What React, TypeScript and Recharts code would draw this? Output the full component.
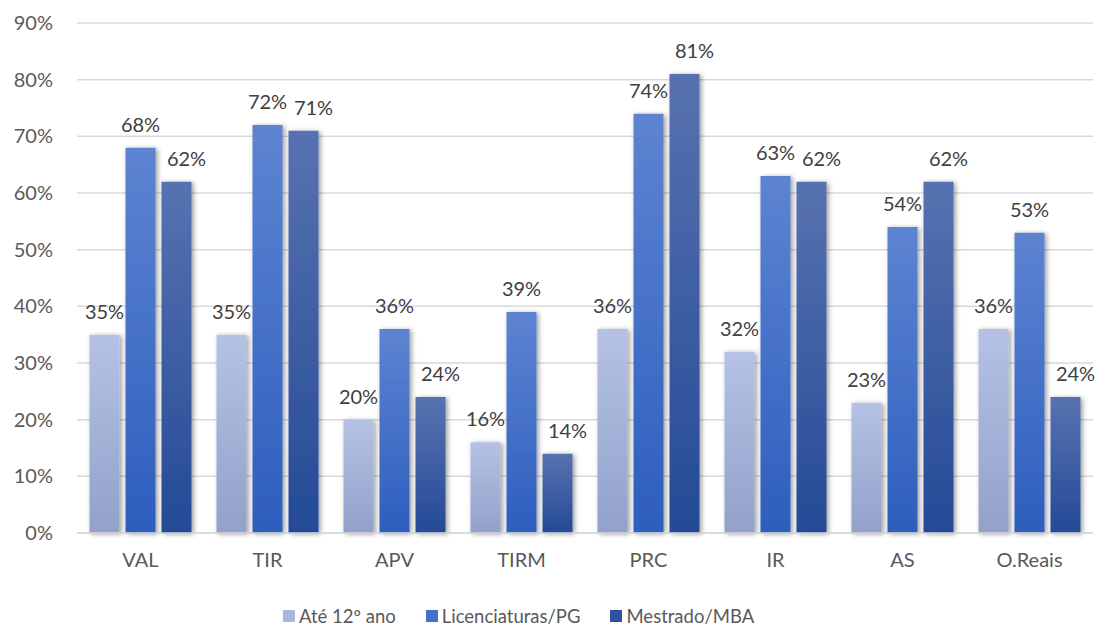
import { Bar, BarChart, CartesianGrid, LabelList, Legend, XAxis, YAxis } from "recharts";

const categories = ["VAL", "TIR", "APV", "TIRM", "PRC", "IR", "AS", "O.Reais"];
const ate12 = [35, 35, 20, 16, 36, 32, 23, 36];
const licenciaturas = [68, 72, 36, 39, 74, 63, 54, 53];
const mestrado = [62, 71, 24, 14, 81, 62, 62, 24];
const yTicks = [0, 10, 20, 30, 40, 50, 60, 70, 80, 90];

const data = categories.map((name, i) => ({
  name,
  ate12: ate12[i],
  licenciaturas: licenciaturas[i],
  mestrado: mestrado[i]
}));

const FONT = "Lato, 'Open Sans', sans-serif";

const series = [
  { key: "ate12", label: "Até 12º ano", grad: "gAte", top: "#b5c2e5", bottom: "#93a1ca", swatch: "#a9b7df", dx: 0 },
  { key: "licenciaturas", label: "Licenciaturas/PG", grad: "gLic", top: "#5d84d1", bottom: "#2d5ebe", swatch: "#4472c4", dx: 0 },
  { key: "mestrado", label: "Mestrado/MBA", grad: "gMes", top: "#5872b0", bottom: "#244a96", swatch: "#2f539e", dx: 10 }
];

function LegendRow() {
  return (
    <div style={{ display: "flex", alignItems: "center", height: 30, fontFamily: FONT, fontSize: 18.5, color: "#595959" }}>
      {series.map((s) => (
        <div key={s.key} style={{ display: "flex", alignItems: "center", marginRight: 30 }}>
          <span style={{ width: 12, height: 12, background: s.swatch, display: "inline-block", marginRight: 4 }} />
          <span>{s.label}</span>
        </div>
      ))}
    </div>
  );
}

export default function App() {
  return (
    <div style={{ width: 1099, height: 628, background: "#fff" }}>
      <style>{"body{margin:0}"}</style>
      <BarChart
        width={1099}
        height={628}
        data={data}
        margin={{ top: 23, right: 6, left: 0, bottom: 0 }}
        barCategoryGap={12.5}
        barGap={6}
      >
        <defs>
          {series.map((s) => (
            <linearGradient key={s.grad} id={s.grad} x1="0" y1="0" x2="0" y2="1">
              <stop offset="0%" stopColor={s.top} />
              <stop offset="100%" stopColor={s.bottom} />
            </linearGradient>
          ))}
          <filter id="barShadow" x="-30%" y="-10%" width="170%" height="125%">
            <feDropShadow dx="2" dy="1" stdDeviation="2.5" floodColor="#000" floodOpacity="0.4" />
          </filter>
        </defs>
        <CartesianGrid vertical={false} stroke="#d9d9d9" strokeWidth={1.5} />
        <XAxis
          dataKey="name"
          height={65}
          tickLine={false}
          axisLine={{ stroke: "#d9d9d9", strokeWidth: 1.5 }}
          tickMargin={14}
          tick={{ fill: "#595959", fontSize: 20, fontFamily: FONT }}
        />
        <YAxis
          width={77}
          domain={[0, 90]}
          ticks={yTicks}
          tickFormatter={(v: number) => `${v}%`}
          tickLine={false}
          axisLine={false}
          tickMargin={18}
          tick={{ fill: "#595959", fontSize: 20, fontFamily: FONT }}
        />
        <Legend
          verticalAlign="bottom"
          content={() => <LegendRow />}
          wrapperStyle={{ left: 283, width: "auto", bottom: -3 }}
        />
        {series.map((s) => (
          <Bar
            key={s.key}
            dataKey={s.key}
            name={s.label}
            fill={`url(#${s.grad})`}
            filter="url(#barShadow)"
            isAnimationActive={false}
          >
            <LabelList
              dataKey={s.key}
              position="top"
              offset={16}
              dx={s.dx}
              formatter={(v: number) => `${v}%`}
              style={{ fill: "#404040", fontSize: 20, fontFamily: FONT }}
            />
          </Bar>
        ))}
      </BarChart>
    </div>
  );
}
